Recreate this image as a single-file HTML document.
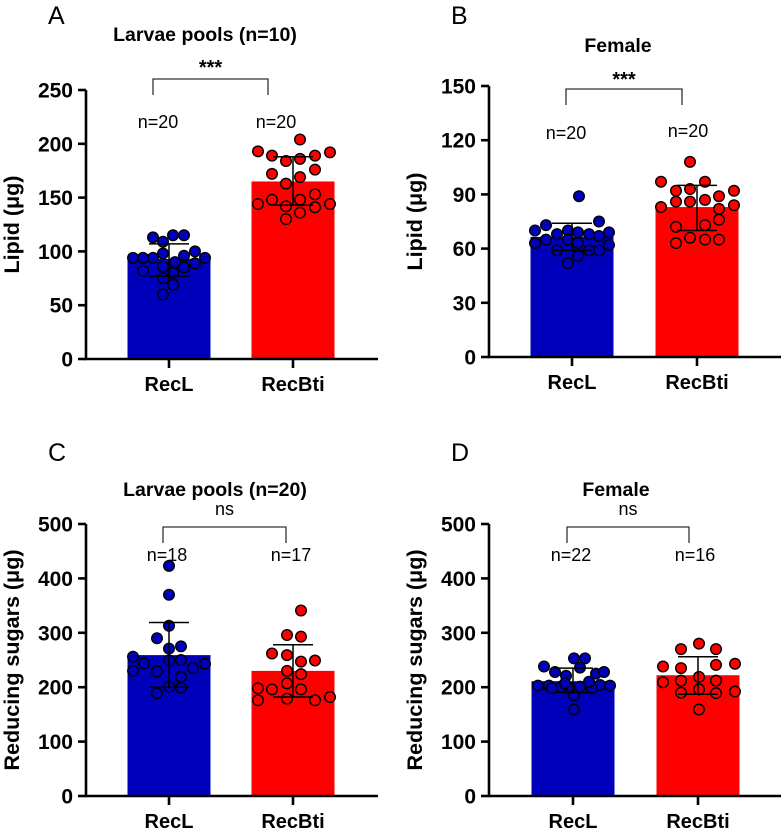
<!DOCTYPE html>
<html><head><meta charset="utf-8"><style>
html,body{margin:0;padding:0;background:#fff;}
svg{display:block;font-family:"Liberation Sans",Arial,sans-serif;}
</style></head><body>
<svg id="fig" width="784" height="830" viewBox="0 0 784 830" xmlns="http://www.w3.org/2000/svg"></svg>
<script>
// ---- data ----
const categories = ["RecL", "RecBti"];
const aTicks = [0, 50, 100, 150, 200, 250];
const aMeans = [93, 165];
const aSD = [[77, 107], [143, 188]];
const aBlue = [113,109,115,115,94,94,94,98,90,96,100,94,82,86,85,89,80,75,69,60];
const aRed = [193,189,184,186,189,192,204,172,169,176,163,144,148,142,148,153,144,141,136,130];
const bTicks = [0, 30, 60, 90, 120, 150];
const bMeans = [66.5, 83];
const bSD = [[59, 74], [70, 95]];
const bBlue = [89,70,73,68,70,69,68,75,69,63,65,65,63,67,62,59,59,59,56,52];
const bRed = [108,97,92,93,97,89,92,83,86,86,87,82,84,72,73,76,63,66,65,65];
const cTicks = [0, 100, 200, 300, 400, 500];
const cMeans = [259, 230];
const cSD = [[200, 319], [182, 278]];
const cBlue = [423,370,313,290,271,275,256,244,249,250,235,243,230,229,219,201,199,189];
const cRed = [341,296,293,262,259,247,249,230,224,207,196,198,196,176,179,176,182];
const dTicks = [0, 100, 200, 300, 400, 500];
const dMeans = [211, 222];
const dSD = [[190, 235], [187, 256]];
const dBlue = [238,228,221,253,253,236,225,228,203,203,201,198,201,204,204,203,185,159,198,198,207,210];
const dRed = [238,235,270,280,270,241,243,219,209,212,212,190,196,189,192,159];
// jitter (layout only, px)
const jA = [[-16,-6,4,15,-36,-26,-16,-6,6,15,26,36,-26,-6,15,26,4,-6,4,-6],[-35,-21,-7,7,22,37,7,-21,7,22,-7,-35,-21,-7,7,22,37,22,7,-7]];
const jB = [[7,-37,-26,-15,-4,6,17,27,37,-37,-26,-4,6,27,37,-15,17,27,6,-4],[-7,-36,-21,-7,8,22,37,-36,-21,-7,8,22,37,-21,8,22,-21,-7,8,22]];
const jC = [[0,0,0,-12,0,12,-36,-25,0,12,24,36,-36,-12,12,0,12,-12],[8,-6,8,-21,-6,8,22,-6,8,-6,8,-35,-21,-35,-6,22,37]];
const jD = [[-29,-18,-7,1,12,7,23,31,-35,-24,-12,-1,7,18,27,37,1,1,-21,19,-8,16],[-35,-17,-17,1,18,18,37,1,-35,-17,18,-17,1,18,37,1]];

const NS = "http://www.w3.org/2000/svg";
const svg = document.getElementById("fig");
function mk(tag, attrs, parent, txt){
  const e = document.createElementNS(NS, tag);
  for (const k in attrs) e.setAttribute(k, attrs[k]);
  if (txt !== undefined) e.textContent = txt;
  (parent || svg).appendChild(e);
  return e;
}

function panel(o){
  const g = mk("g", {});
  
  
  const max = o.ticks[o.ticks.length-1];
  const y = v => o.y0 - (v / max) * (o.y0 - o.yTop);
  const cx = [o.ax + o.c1, o.ax + o.c2];
  const bw = 83;
  const L = mk("text", {x:o.ax-38, y:o.letterY, "font-size":25, fill:"#000"}, g, o.letter);
  
  
  const T = mk("text", {x:o.titleX, y:o.titleY, "font-size":19.5, "font-weight":"bold", "text-anchor":"middle"}, g, o.title);
  
  
  const colors = ["#0000bb", "#ff0000"];
  const vals = [o.blue, o.red];
  const jit = [o.jb, o.jr];
  for (let i = 0; i < 2; i++){
    const b = mk("rect", {x:cx[i]-bw/2, y:y(o.means[i]), width:bw, height:o.y0-y(o.means[i]), fill:colors[i]}, g);
    
    
  }
  for (let i = 0; i < 2; i++){
    vals[i].forEach((v, k) => {
      const c = mk("circle", {cx:cx[i] + (jit[i][k] || 0), cy:y(v), r:5.3, fill: colors[i], stroke:"#000", "stroke-width":1.4}, g);
      
      
    });
  }
  for (let i = 0; i < 2; i++){
    const lo = y(o.sd[i][0]), hi = y(o.sd[i][1]);
    const e = mk("path", {d:`M${cx[i]},${lo}V${hi}M${cx[i]-20},${hi}H${cx[i]+20}M${cx[i]-20},${lo}H${cx[i]+20}`, stroke:"#000", "stroke-width":1.5, fill:"none"}, g);
    
    
  }
  const ax = mk("path", {d:`M${o.ax},${o.yTop}V${o.y0}H${o.ax+292}`, stroke:"#000", "stroke-width":2.6, fill:"none"}, g);
  
  
  o.ticks.forEach(t => {
    const tk = mk("line", {x1:o.ax-8, x2:o.ax, y1:y(t), y2:y(t), stroke:"#000", "stroke-width":2.6}, g);
    
    
    const tl = mk("text", {x:o.ax-13, y:y(t)+7.5, "font-size":21, "font-weight":"bold", "text-anchor":"end"}, g, String(t));
    
    
  });
  for (let i = 0; i < 2; i++){
    const tk = mk("line", {x1:cx[i], x2:cx[i], y1:o.y0, y2:o.y0+9, stroke:"#000", "stroke-width":2.6}, g);
    
    
    const tl = mk("text", {x:cx[i], y:o.y0+32, "font-size":20, "font-weight":"bold", "text-anchor":"middle"}, g, categories[i]);
    
    
    const nl = mk("text", {x:o.ax+o.nx[i], y:o.nY[i], "font-size":18, "text-anchor":"middle"}, g, o.n[i]);
    
    
  }
  const yt = mk("text", {x:0, y:0, "font-size":21.5, "font-weight":"bold", "text-anchor":"middle", transform:`translate(${o.ax-67},${(o.yTop+o.y0)/2}) rotate(-90)`}, g, o.ytitle);
  
  
  const br = mk("path", {d:`M${o.ax+o.brx[0]},${o.bry+16}V${o.bry}H${o.ax+o.brx[1]}V${o.bry+16}`, stroke:"#333", "stroke-width":1.3, fill:"none"}, g);
  
  
  const st = mk("text", {x:o.ax+(o.brx[0]+o.brx[1])/2, y:o.sigY, "font-size": o.sig==="ns"?18:20, "font-weight": o.sig==="ns"?"normal":"bold", "text-anchor":"middle"}, g, o.sig);
  
  
}

panel({name:"panel-a", letter:"A", letterY:24, title:"Larvae pools (n=10)", titleX:205, titleY:41,
  ax:86, yTop:90, y0:359, c1:83, c2:207, ticks:aTicks, means:aMeans, sd:aSD, blue:aBlue, red:aRed, jb:jA[0], jr:jA[1],
  ytitle:"Lipid (\u03bcg)", n:["n=20","n=20"], nx:[72,190], nY:[128,128], brx:[67,182], bry:79, sig:"***", sigY:74});
panel({name:"panel-b", letter:"B", letterY:24, title:"Female", titleX:618, titleY:52,
  ax:489, yTop:86, y0:357, c1:83, c2:208, ticks:bTicks, means:bMeans, sd:bSD, blue:bBlue, red:bRed, jb:jB[0], jr:jB[1],
  ytitle:"Lipid (\u03bcg)", n:["n=20","n=20"], nx:[77,199], nY:[139,137], brx:[77,193], bry:89, sig:"***", sigY:86});
panel({name:"panel-c", letter:"C", letterY:461, title:"Larvae pools (n=20)", titleX:215, titleY:496,
  ax:86, yTop:524, y0:796, c1:83, c2:207, ticks:cTicks, means:cMeans, sd:cSD, blue:cBlue, red:cRed, jb:jC[0], jr:jC[1],
  ytitle:"Reducing sugars (\u03bcg)", n:["n=18","n=17"], nx:[81,205], nY:[561,561], brx:[77,200], bry:527, sig:"ns", sigY:515});
panel({name:"panel-d", letter:"D", letterY:461, title:"Female", titleX:616, titleY:496,
  ax:489, yTop:524, y0:796, c1:84, c2:209, ticks:dTicks, means:dMeans, sd:dSD, blue:dBlue, red:dRed, jb:jD[0], jr:jD[1],
  ytitle:"Reducing sugars (\u03bcg)", n:["n=22","n=16"], nx:[82,206], nY:[561,561], brx:[78,200], bry:527, sig:"ns", sigY:515});
</script>
</body></html>
